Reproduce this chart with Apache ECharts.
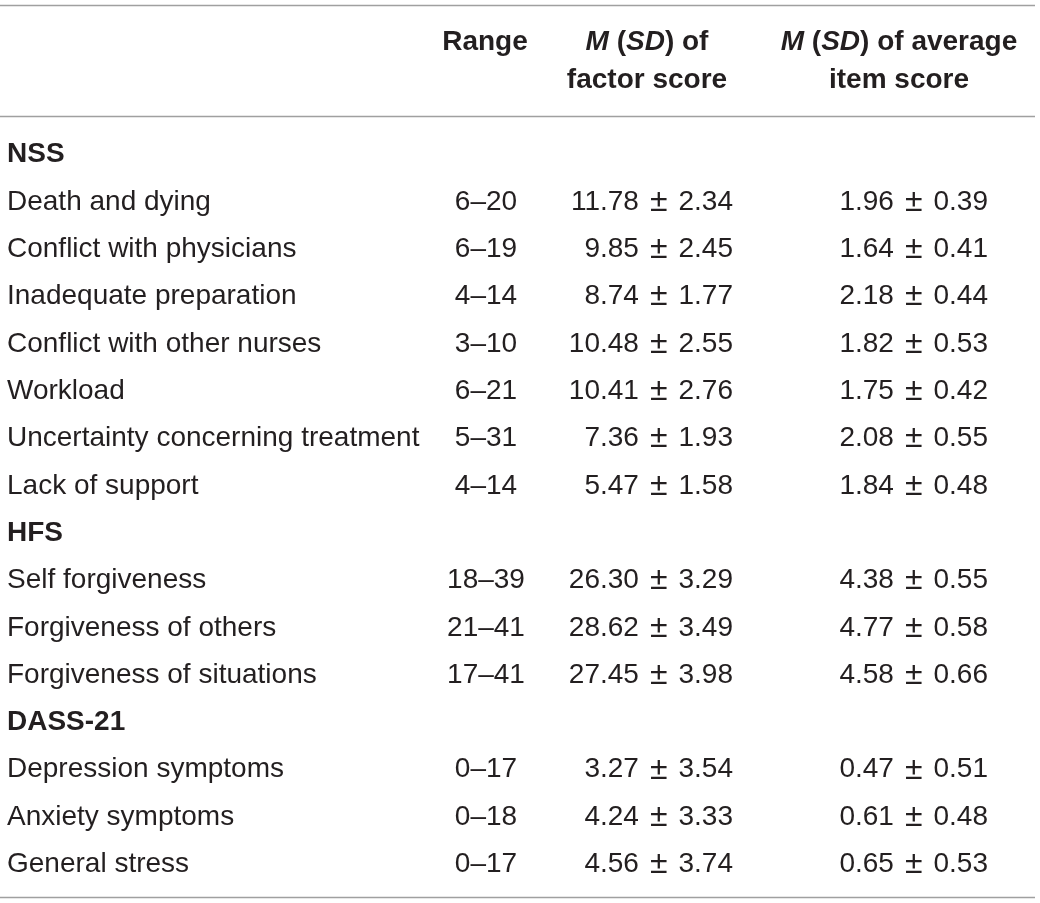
<!DOCTYPE html>
<html lang="en">
<head>
    <meta charset="UTF-8">
    <script src="https://cdn.jsdelivr.net/npm/echarts@6.0.0/dist/echarts.min.js"></script>
    <title>Descriptive statistics</title>
    <style>
        html, body { margin: 0; padding: 0; background: #fff; }
    </style>
</head>
<body>
<div id="main" style="width: 1040px;height: 903px"></div>

<script type="text/javascript">
    // 表格数据
    var rowLabels = ['NSS', 'Death and dying', 'Conflict with physicians', 'Inadequate preparation',
        'Conflict with other nurses', 'Workload', 'Uncertainty concerning treatment', 'Lack of support',
        'HFS', 'Self forgiveness', 'Forgiveness of others', 'Forgiveness of situations',
        'DASS-21', 'Depression symptoms', 'Anxiety symptoms', 'General stress'];
    var groupRows = ['NSS', 'HFS', 'DASS-21'];
    var rangeMin = [null, 6, 6, 4, 3, 6, 5, 4, null, 18, 21, 17, null, 0, 0, 0];
    var rangeMax = [null, 20, 19, 14, 10, 21, 31, 14, null, 39, 41, 41, null, 17, 18, 17];
    var factorM = [null, 11.78, 9.85, 8.74, 10.48, 10.41, 7.36, 5.47, null, 26.30, 28.62, 27.45, null, 3.27, 4.24, 4.56];
    var factorSD = [null, 2.34, 2.45, 1.77, 2.55, 2.76, 1.93, 1.58, null, 3.29, 3.49, 3.98, null, 3.54, 3.33, 3.74];
    var itemM = [null, 1.96, 1.64, 2.18, 1.82, 1.75, 2.08, 1.84, null, 4.38, 4.77, 4.58, null, 0.47, 0.61, 0.65];
    var itemSD = [null, 0.39, 0.41, 0.44, 0.53, 0.42, 0.55, 0.48, null, 0.55, 0.58, 0.66, null, 0.51, 0.48, 0.53];

    var FONT = '"Liberation Sans", Arial, Helvetica, sans-serif';
    var TEXT_COLOR = '#231f20';
    var RULE_COLOR = '#a0a0a0';

    // 列的锚点位置 (像素) 与对齐方式
    var colX = [7, 486, 733, 988];
    var colAlign = ['left', 'center', 'right', 'right'];

    function pm(m, sd) {
        return m.toFixed(2) + '{pm|\u00b1}' + sd.toFixed(2);
    }

    // 每一列: 坐标数据 + 单独的文字数组
    function columnCells(col) {
        var data = [], texts = [], bolds = [];
        rowLabels.forEach(function (label, i) {
            var text = '';
            if (col === 0) text = label;
            else if (rangeMin[i] !== null) {
                if (col === 1) text = rangeMin[i] + '\u2013' + rangeMax[i];
                if (col === 2) text = pm(factorM[i], factorSD[i]);
                if (col === 3) text = pm(itemM[i], itemSD[i]);
            }
            if (text) {
                data.push([colX[col], i]);
                texts.push(text);
                bolds.push(groupRows.indexOf(label) >= 0);
            }
        });
        return {data: data, texts: texts, bolds: bolds};
    }

    function cellSeries(col) {
        var cells = columnCells(col);
        return {
            type: 'custom',
            silent: true,
            data: cells.data,
            renderItem: function (params, api) {
                var p = api.coord([api.value(0), api.value(1)]);
                var i = params.dataIndex;
                return {
                    type: 'text',
                    style: {
                        text: cells.texts[i],
                        x: p[0],
                        y: p[1],
                        align: colAlign[col],
                        verticalAlign: 'middle',
                        font: (cells.bolds[i] ? 'bold ' : '') + '28px ' + FONT,
                        fill: TEXT_COLOR,
                        rich: {
                            pm: {fontSize: 32, fontFamily: FONT, fill: TEXT_COLOR, padding: [0, 11, 0, 11]}
                        }
                    }
                };
            }
        };
    }

    function headText(text, x, y) {
        return {
            type: 'text',
            silent: true,
            style: {
                text: text,
                x: x,
                y: y,
                align: 'center',
                verticalAlign: 'middle',
                font: 'bold 28px ' + FONT,
                fill: TEXT_COLOR,
                rich: {
                    i: {fontStyle: 'italic', fontWeight: 'bold', fontSize: 28, fontFamily: FONT, fill: TEXT_COLOR}
                }
            }
        };
    }

    function rule(y) {
        return {
            type: 'line',
            silent: true,
            shape: {x1: 0, y1: y, x2: 1035, y2: y},
            style: {stroke: RULE_COLOR, lineWidth: 1.5}
        };
    }

    var chart = echarts.init(document.getElementById('main'), null, {renderer: 'canvas'});
    chart.setOption({
        animation: false,
        backgroundColor: '#fff',
        grid: {left: 0, right: 0, top: 131, bottom: 15},
        xAxis: {type: 'value', min: 0, max: 1040, show: false},
        yAxis: {type: 'category', inverse: true, data: rowLabels, show: false},
        graphic: [
            rule(5.5),
            rule(116.5),
            rule(897.5),
            headText('Range', 485, 42),
            headText('{i|M} ({i|SD}) of', 647, 42),
            headText('factor score', 647, 80),
            headText('{i|M} ({i|SD}) of average', 899, 42),
            headText('item score', 899, 80)
        ],
        series: [cellSeries(0), cellSeries(1), cellSeries(2), cellSeries(3)]
    });
</script>
</body>
</html>
